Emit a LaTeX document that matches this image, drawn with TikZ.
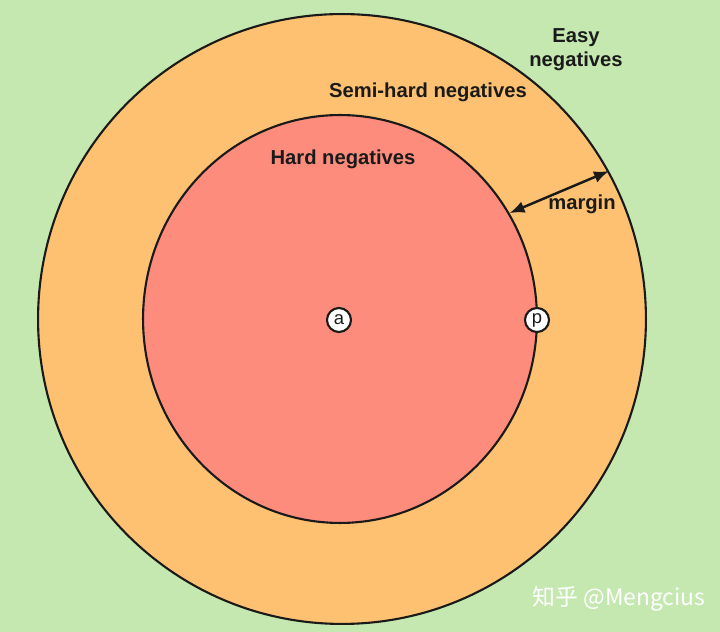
\documentclass[tikz,border=0pt]{standalone}
\usepackage{fontspec}
\setmainfont{Liberation Sans}
\newfontfamily\cjkfont{Noto Sans CJK SC}
\usetikzlibrary{arrows.meta,shapes.geometric}
\definecolor{EasyGreen}{HTML}{C5E8B1}
\definecolor{SemiOrange}{HTML}{FDC171}
\definecolor{HardRed}{HTML}{FE8C7D}
\definecolor{Ink}{HTML}{1A1A1A}

\begin{document}
\begin{tikzpicture}[x=0.02cm,y=0.02cm,>={Latex[length=3mm,width=2.4mm]},
    every node/.style={font=\fontsize{11.5}{13.8}\selectfont\bfseries,text=Ink},
    zone/.style={ellipse,draw=Ink,line width=1.2pt,inner sep=0pt},
    point/.style={circle,draw=Ink,fill=white,line width=1.2pt,minimum size=0.48cm,inner sep=0pt,font=\fontsize{10.5}{12}\selectfont}]
      \fill[EasyGreen] (0,0) rectangle (720,632);
      \useasboundingbox (0,0) rectangle (720,632);

      \node[zone,fill=SemiOrange,minimum width=12.16cm,minimum height=12.2cm] (outer) at (342,313) {};
      \node[zone,fill=HardRed,minimum width=7.88cm,minimum height=8.16cm] (inner) at (340,313) {};

      \node[point] (anchorpt) at (339,312) {a};
      \node[point] (pospt) at (537,312) {p};

      \node (hardlbl) at (343,473) {Hard negatives};
      \node (semilbl) at (428,540) {Semi-hard negatives};
      \node[align=center] (easylbl) at (576,582) {Easy\\negatives};
      \node (marginlbl) at (582,428) {margin};

      \draw[<->,Ink,line width=1.4pt] (inner.32) -- (outer.29);

      \node[font=\cjkfont\fontsize{13}{15}\selectfont,text=white] (mark) at (619,33) {知乎 @Mengcius};
    \end{tikzpicture}
\end{document}
